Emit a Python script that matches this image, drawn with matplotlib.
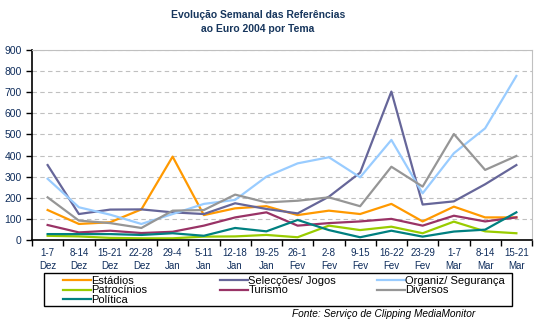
import numpy as np
import matplotlib
matplotlib.use('Agg')
import matplotlib.pyplot as plt
from matplotlib.patches import Rectangle

plt.rcParams['font.family'] = ['Liberation Sans', 'DejaVu Sans']

semanas = ['1-7\nDez', '8-14\nDez', '15-21\nDez', '22-28\nDez', '29-4\nJan', '5-11\nJan',
           '12-18\nJan', '19-25\nJan', '26-1\nFev', '2-8\nFev', '9-15\nFev', '16-22\nFev',
           '23-29\nFev', '1-7\nMar', '8-14\nMar', '15-21\nMar']

estadios    = [142, 76, 84, 145, 395, 118, 150, 160, 118, 139, 123, 171, 88, 158, 107, 107]
seleccoes   = [355, 123, 144, 145, 131, 123, 174, 147, 126, 205, 319, 703, 168, 183, 264, 355]
organiz     = [290, 155, 120, 76, 123, 171, 190, 300, 363, 392, 297, 474, 221, 411, 529, 777]
patrocinios = [20, 17, 10, 8, 8, 16, 17, 24, 13, 68, 47, 63, 32, 87, 41, 32]
turismo     = [71, 36, 44, 33, 39, 68, 107, 131, 68, 80, 88, 100, 68, 115, 88, 107]
diversos    = [202, 92, 80, 57, 139, 142, 215, 178, 186, 202, 160, 347, 253, 502, 332, 398]
politica    = [28, 28, 28, 24, 32, 20, 57, 41, 95, 47, 13, 44, 16, 40, 49, 131]

series = [
    ('Estádios', estadios, '#FF9900'),
    ('Selecções/ Jogos', seleccoes, '#666699'),
    ('Organiz/ Segurança', organiz, '#99CCFF'),
    ('Patrocínios', patrocinios, '#99CC00'),
    ('Turismo', turismo, '#993366'),
    ('Diversos', diversos, '#969696'),
    ('Política', politica, '#008080'),
]

navy = '#0F2D5C'
W, H = 552.0, 328.0

fig = plt.figure(figsize=(5.52, 3.28), dpi=100)
ax = fig.add_axes([32/W, 1-240/H, 500/W, 190/H])

x = np.arange(len(semanas))
lines = {}
for name, vals, col in series:
    l, = ax.plot(x, vals, color=col, lw=1.6, label=name)
    lines[name] = l

ax.set_xlim(-0.5, len(semanas)-0.5)
ax.set_ylim(0, 900)
ax.set_yticks(np.arange(0, 901, 100))
ax.yaxis.grid(True, ls=(0, (4, 3)), color='#C0C0C0', lw=0.8)
ax.set_axisbelow(True)

ax.set_xticks(x)
ax.set_xticklabels(semanas, fontsize=7, color=navy, linespacing=1.35)
ax.set_xticks(np.arange(-0.5, len(semanas)), minor=True)
ax.tick_params(axis='x', which='major', length=0, pad=6)
ax.tick_params(axis='x', which='minor', length=4, width=1, direction='out', color='black')
ax.tick_params(axis='y', labelsize=7.5, labelcolor=navy, length=4, width=1, color='black')

for s in ['top', 'right']:
    ax.spines[s].set_color('#C0C0C0')
for s in ['left', 'bottom']:
    ax.spines[s].set_color('black')
    ax.spines[s].set_linewidth(1.2)

fig.text(258/W, 1-22/H, 'Evolução Semanal das Referências\nao Euro 2004 por Tema',
         ha='center', va='center', fontsize=7.5, fontweight='bold', color='#17365D',
         linespacing=1.45)

# legend: frame drawn by hand, one legend per column
fig.patches.append(Rectangle((44/W, 1-306/H), 468/W, 33/H, transform=fig.transFigure,
                             fill=False, edgecolor='black', lw=1))
colunas = [(['Estádios', 'Patrocínios', 'Política'], 63),
           (['Selecções/ Jogos', 'Turismo'], 220),
           (['Organiz/ Segurança', 'Diversos'], 377)]
for nomes, xl in colunas:
    fig.legend([lines[n] for n in nomes], nomes, loc='upper left',
               bbox_to_anchor=(xl/W, 1-276/H), borderaxespad=0, borderpad=0,
               fontsize=8, handlelength=2.5, handletextpad=0.05, labelspacing=-0.05,
               frameon=False)

fig.text(475/W, 1-314/H, 'Fonte: Serviço de Clipping MediaMonitor',
         ha='right', va='center', fontsize=7.3, style='italic')

fig.savefig('out.png', dpi=100)
